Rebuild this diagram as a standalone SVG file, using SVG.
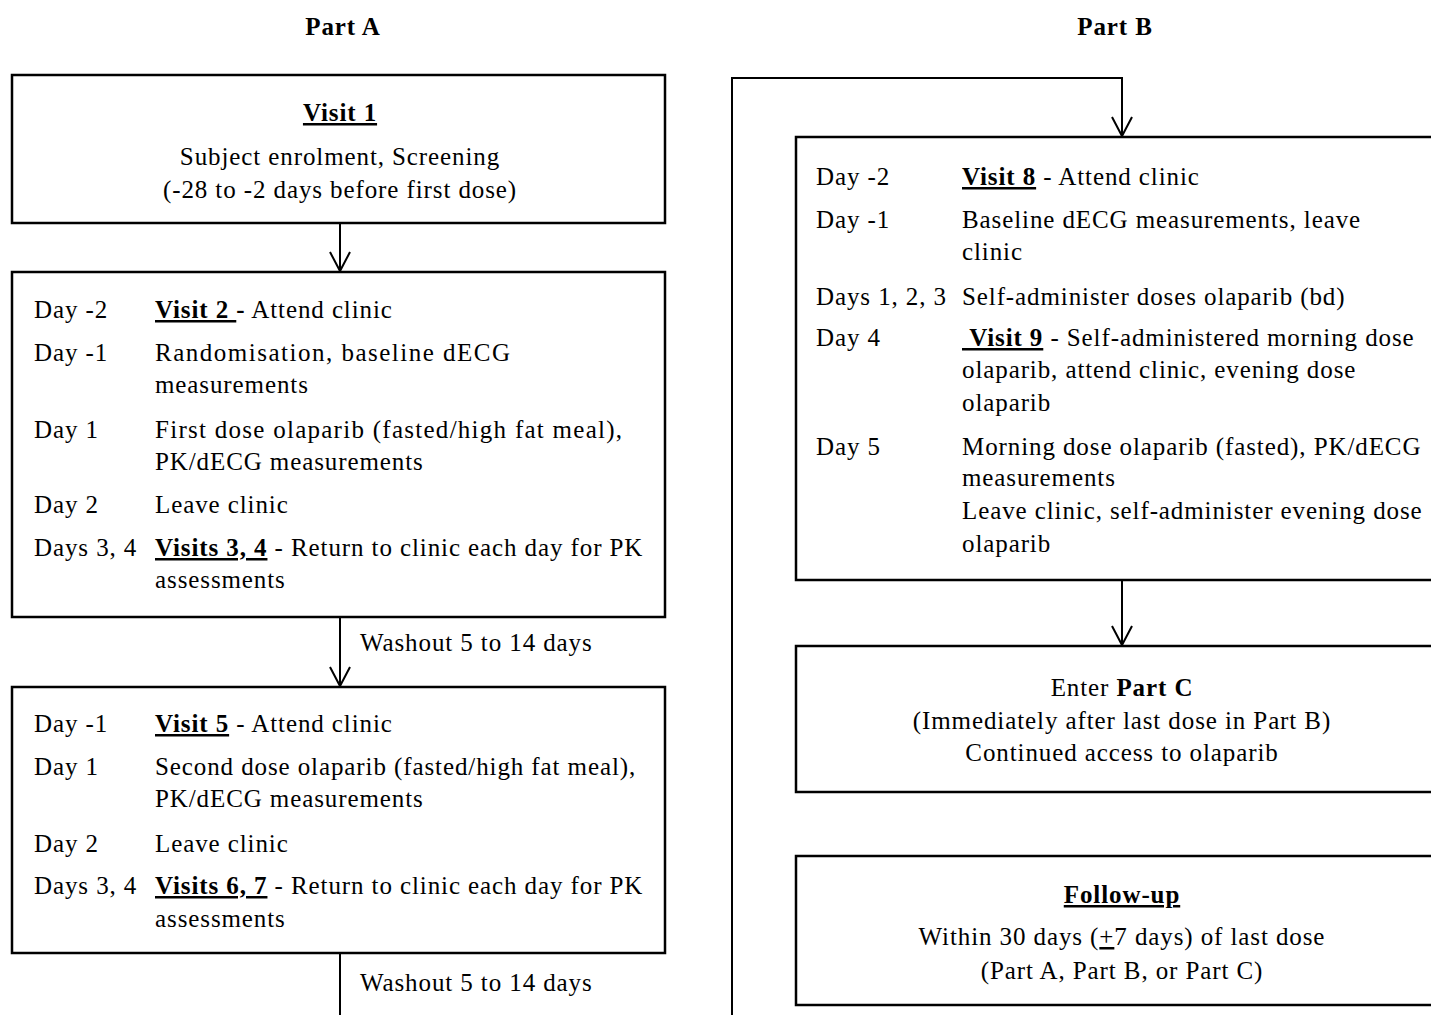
<svg xmlns="http://www.w3.org/2000/svg" width="1431" height="1015" viewBox="0 0 1431 1015">
<defs>
<marker id="arr" markerUnits="userSpaceOnUse" markerWidth="40" markerHeight="40" refX="0" refY="0" orient="auto" overflow="visible">
<path d="M-19,-10 L0,0 L-19,10" fill="none" stroke="#000" stroke-width="2"/>
</marker>
</defs>
<style>
text{font-family:"Liberation Serif","Times New Roman",serif;font-size:25px;fill:#000;letter-spacing:0.9px}
.b{font-weight:bold}
.u{text-decoration:underline}
.c{text-anchor:middle}
.box{fill:#fff;stroke:#000;stroke-width:2.5}
.ln{fill:none;stroke:#000;stroke-width:2}
</style>
<rect width="1431" height="1015" fill="#fff"/>
<text class="b c" x="343" y="35">Part A</text>
<text class="b c" x="1115" y="35">Part B</text>

<g id="connectors">
<path class="ln" d="M340,223 V271" marker-end="url(#arr)"/>
<path class="ln" d="M340,617 V686" marker-end="url(#arr)"/>
<path class="ln" d="M340,953 V1016"/>
<path class="ln" d="M732,1016 V78 H1122 V136" marker-end="url(#arr)"/>
<path class="ln" d="M1122,580 V645" marker-end="url(#arr)"/>
<text x="360" y="651">Washout 5 to 14 days</text>
<text x="360" y="991">Washout 5 to 14 days</text>
</g>

<g id="visit1">
<rect class="box" x="12" y="75" width="653" height="148"/>
<text class="c" x="340" y="121"><tspan class="b u">Visit 1</tspan></text>
<text class="c" x="340" y="165">Subject enrolment, Screening</text>
<text class="c" x="340" y="198">(-28 to -2 days before first dose)</text>
</g>

<g id="visit2">
<rect class="box" x="12" y="272" width="653" height="345"/>
<text x="34" y="318">Day -2</text>
<text x="155" y="318"><tspan class="b u">Visit 2&#160;</tspan><tspan class="b">-</tspan> Attend clinic</text>
<text x="34" y="361">Day -1</text>
<text x="155" y="361" textLength="356" lengthAdjust="spacing">Randomisation, baseline dECG</text>
<text x="155" y="393">measurements</text>
<text x="34" y="438">Day 1</text>
<text x="155" y="438" textLength="468" lengthAdjust="spacing">First dose olaparib (fasted/high fat meal),</text>
<text x="155" y="470">PK/dECG measurements</text>
<text x="34" y="513">Day 2</text>
<text x="155" y="513">Leave clinic</text>
<text x="34" y="556">Days 3, 4</text>
<text x="155" y="556"><tspan class="b u">Visits 3, 4</tspan> - Return to clinic  each day for PK</text>
<text x="155" y="588">assessments</text>
</g>

<g id="visit5">
<rect class="box" x="12" y="687" width="653" height="266"/>
<text x="34" y="732">Day -1</text>
<text x="155" y="732"><tspan class="b u">Visit 5</tspan> - Attend clinic</text>
<text x="34" y="775">Day 1</text>
<text x="155" y="775">Second dose olaparib (fasted/high fat meal),</text>
<text x="155" y="807">PK/dECG measurements</text>
<text x="34" y="852">Day 2</text>
<text x="155" y="852">Leave clinic</text>
<text x="34" y="894">Days 3, 4</text>
<text x="155" y="894"><tspan class="b u">Visits 6, 7</tspan> - Return to clinic  each day for PK</text>
<text x="155" y="927">assessments</text>
</g>

<g id="partB">
<rect class="box" x="796" y="137" width="660" height="443"/>
<text x="816" y="185">Day -2</text>
<text x="962" y="185"><tspan class="b u">Visit 8</tspan> - Attend clinic</text>
<text x="816" y="228">Day -1</text>
<text x="962" y="228">Baseline dECG measurements, leave</text>
<text x="962" y="260">clinic</text>
<text x="816" y="305">Days 1, 2, 3</text>
<text x="962" y="305">Self-administer doses olaparib (bd)</text>
<text x="816" y="346">Day 4</text>
<text x="962" y="346"><tspan class="b u">&#160;Visit 9</tspan> - Self-administered morning dose</text>
<text x="962" y="378">olaparib, attend clinic, evening dose</text>
<text x="962" y="411">olaparib</text>
<text x="816" y="455">Day 5</text>
<text x="962" y="455">Morning dose olaparib (fasted), PK/dECG</text>
<text x="962" y="486">measurements</text>
<text x="962" y="519">Leave clinic, self-administer evening dose</text>
<text x="962" y="552">olaparib</text>
</g>

<g id="partC">
<rect class="box" x="796" y="646" width="660" height="146"/>
<text class="c" x="1122" y="696">Enter <tspan class="b">Part C</tspan></text>
<text class="c" x="1122" y="729">(Immediately after last dose in Part B)</text>
<text class="c" x="1122" y="761">Continued access to olaparib</text>
</g>

<g id="followup">
<rect class="box" x="796" y="856" width="660" height="149"/>
<text class="c" x="1122" y="903"><tspan class="b u">Follow-up</tspan></text>
<text class="c" x="1122" y="945">Within 30 days (<tspan class="u">+</tspan>7 days) of last dose</text>
<text class="c" x="1122" y="979">(Part A, Part B, or Part C)</text>
</g>
</svg>
